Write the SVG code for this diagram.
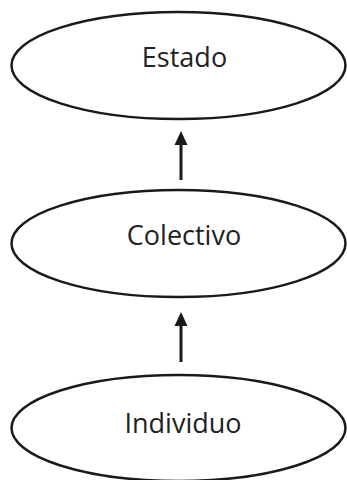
<svg xmlns="http://www.w3.org/2000/svg" width="347" height="480" viewBox="0 0 347 480">
<style>
.n ellipse{fill:#fff;stroke:#1a1a1a;stroke-width:2.5}
.n text{font-family:"Open Sans","Liberation Sans",sans-serif;font-size:27px;fill:#222;text-anchor:middle}
.c line{stroke:#1a1a1a;stroke-width:3}
.c path{fill:#1a1a1a}
</style>
<rect width="347" height="480" fill="#fff"/>
<g id="estado" class="n">
<ellipse cx="178.5" cy="65.5" rx="167" ry="53.5"/>
<text x="184.5" y="67">Estado</text>
</g>
<g id="colectivo" class="n">
<ellipse cx="178.5" cy="243.5" rx="167" ry="53.5"/>
<text x="184" y="245">Colectivo</text>
</g>
<g id="individuo" class="n">
<ellipse cx="178.5" cy="428" rx="167" ry="53"/>
<text x="183" y="433">Individuo</text>
</g>
<g id="connectors" class="c">
<line x1="181" y1="180" x2="181" y2="142"/>
<path d="M181 131 L187.5 145 L174.5 145 Z"/>
<line x1="181" y1="362" x2="181" y2="323"/>
<path d="M181 312 L187.5 326 L174.5 326 Z"/>
</g>
</svg>
